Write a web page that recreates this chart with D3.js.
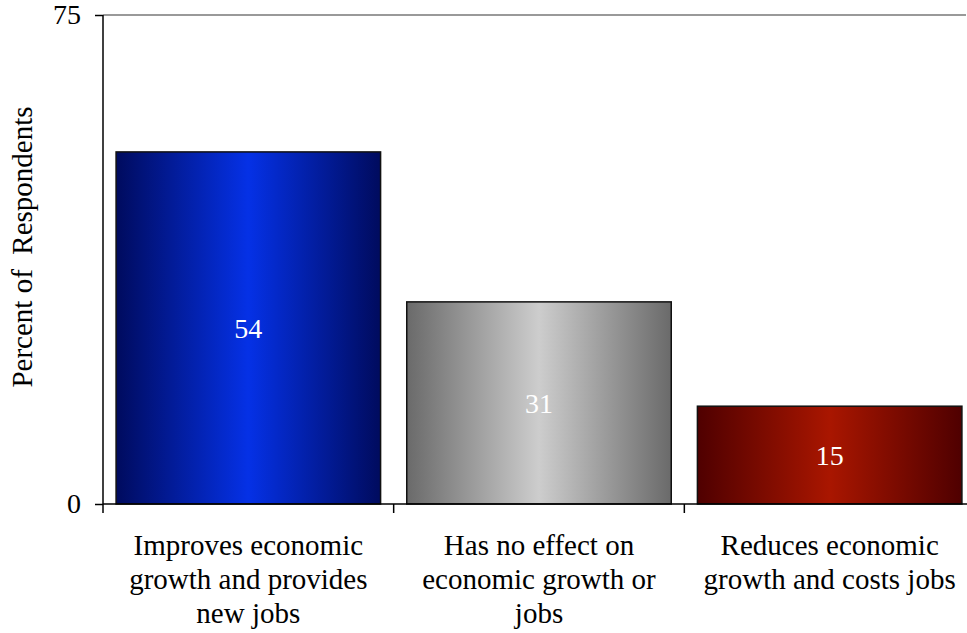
<!DOCTYPE html>
<html>
<head>
<meta charset="utf-8">
<script src="https://cdn.jsdelivr.net/npm/d3@7"></script>
<style>
  body { margin: 0; background: #fff; }
  svg text { font-family: "Liberation Serif", "DejaVu Serif", serif; }
</style>
</head>
<body>
<div id="chart"></div>
<script>
// data
var categories = [
  ["Improves economic", "growth and provides", "new jobs"],
  ["Has no effect on", "economic growth or", "jobs"],
  ["Reduces economic", "growth and costs jobs"]
];
var values = [54, 31, 15];
var yTicks = [0, 75];
var gradStops = [
  { edge: "#000b5e", mid: "#0531e6" },
  { edge: "#6a6a6a", mid: "#cdcdcd" },
  { edge: "#4f0000", mid: "#a91600" }
];

var W = 967, H = 633;
var margin = { top: 15, right: -8, bottom: 129, left: 103 };
var width = W - margin.left - margin.right,
    height = H - margin.top - margin.bottom;

var svg = d3.select("#chart").append("svg")
    .attr("width", W)
    .attr("height", H);

var defs = svg.append("defs");
gradStops.forEach(function(g, i) {
  var lg = defs.append("linearGradient")
      .attr("id", "grad" + i)
      .attr("x1", "0%").attr("x2", "100%")
      .attr("y1", "0%").attr("y2", "0%");
  lg.append("stop").attr("offset", "0%").attr("stop-color", g.edge);
  lg.append("stop").attr("offset", "50%").attr("stop-color", g.mid);
  lg.append("stop").attr("offset", "100%").attr("stop-color", g.edge);
});

var g = svg.append("g")
    .attr("transform", "translate(" + margin.left + "," + margin.top + ")");

var x = d3.scaleBand()
    .domain(d3.range(values.length))
    .range([0, width])
    .paddingInner(0.09)
    .paddingOuter(0.045);

var y = d3.scaleLinear().domain([0, 75]).range([height, 0]);

// gray top border
g.append("line")
    .attr("x1", 0).attr("x2", W - margin.left - 1)
    .attr("y1", y(75)).attr("y2", y(75))
    .attr("stroke", "#999").attr("stroke-width", 2);

// bars
g.selectAll(".bar")
    .data(values)
  .enter().append("rect")
    .attr("class", "bar")
    .attr("x", function(d, i) { return x(i); })
    .attr("width", x.bandwidth())
    .attr("y", function(d) { return y(d); })
    .attr("height", function(d) { return height - y(d); })
    .attr("fill", function(d, i) { return "url(#grad" + i + ")"; })
    .attr("stroke", "#111")
    .attr("stroke-width", 1.5);

// value labels
g.selectAll(".val")
    .data(values)
  .enter().append("text")
    .attr("class", "val")
    .attr("text-anchor", "middle")
    .attr("x", function(d, i) { return x(i) + x.bandwidth() / 2; })
    .attr("y", function(d) { return (y(d) + height) / 2 + 10; })
    .attr("fill", "#fff")
    .style("font-size", "28px")
    .text(function(d) { return d; });

// y axis
var yAxis = g.append("g")
    .call(d3.axisLeft(y).tickValues(yTicks).tickSize(8).tickPadding(14));
yAxis.select(".domain").attr("stroke", "#000").attr("stroke-width", 1.5)
    .attr("d", "M0," + y(75) + "V" + height);
yAxis.selectAll(".tick line").attr("stroke", "#000").attr("stroke-width", 1.5);
yAxis.selectAll(".tick text")
    .attr("fill", "#000")
    .style("font-size", "28px")
    .attr("font-family", null);

// x axis baseline + category ticks
var xb = g.append("g").attr("transform", "translate(0," + height + ")");
xb.append("line")
    .attr("x1", 0).attr("x2", width)
    .attr("stroke", "#000").attr("stroke-width", 1.5);
var step = x.step();
xb.selectAll(".xt")
    .data(d3.range(values.length + 1))
  .enter().append("line")
    .attr("x1", function(i) { return i * step; })
    .attr("x2", function(i) { return i * step; })
    .attr("y1", 0).attr("y2", 9)
    .attr("stroke", "#000").attr("stroke-width", 1.5);

// category labels
var labs = xb.selectAll(".cat")
    .data(categories)
  .enter().append("text")
    .attr("class", "cat")
    .attr("text-anchor", "middle")
    .attr("x", function(d, i) { return x(i) + x.bandwidth() / 2; })
    .attr("y", 51)
    .attr("fill", "#000")
    .style("font-size", "29px");
labs.selectAll("tspan")
    .data(function(d) { return d; })
  .enter().append("tspan")
    .attr("x", function() { return d3.select(this.parentNode).attr("x"); })
    .attr("dy", function(d, j) { return j === 0 ? 0 : 34; })
    .text(function(d) { return d; });

// y title
svg.append("text")
    .attr("transform", "translate(32," + 247 + ") rotate(-90)")
    .attr("text-anchor", "middle")
    .attr("fill", "#000")
    .style("font-size", "29px")
    .style("white-space", "pre")
    .text("Percent of  Respondents");
</script>
</body>
</html>
